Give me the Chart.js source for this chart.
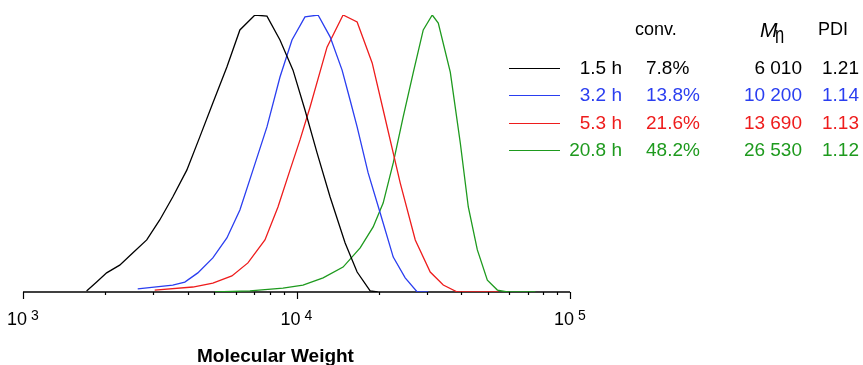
<!DOCTYPE html>
<html>
<head>
<meta charset="utf-8">
<title>GPC traces</title>
<script src="https://cdn.jsdelivr.net/npm/chart.js@4.4.1/dist/chart.umd.min.js"></script>
<style>
    html, body { margin: 0; padding: 0; background: #fff; }
    #wrap { position: relative; width: 863px; height: 365px; overflow: hidden;
            font-family: "Liberation Sans", Arial, Helvetica, sans-serif; }
    #chart { position: absolute; left: 0; top: 0; }
    .txt { position: absolute; font-size: 19px; line-height: 19px; white-space: nowrap; }
    .head { font-size: 18px; line-height: 18px; }
    .swatch { position: absolute; height: 0; border-top: 1.3px solid #000; }
    #xtitle { position: absolute; font-weight: bold; font-size: 19px; line-height: 19px; }
</style>
</head>
<body>
<div id="wrap">
    <canvas id="chart" width="863" height="365"></canvas>
    <div id="legend"></div>
    <div id="xtitle" style="left:197px; top:345.6px;">Molecular Weight</div>
</div>

<script>
// reaction time samples
const times = ["1.5 h", "3.2 h", "5.3 h", "20.8 h"];
const conversions = ["7.8%", "13.8%", "21.6%", "48.2%"];
const mnValues = ["6 010", "10 200", "13 690", "26 530"];
const pdiValues = ["1.21", "1.14", "1.13", "1.12"];
const colors = ["#000000", "#2a3ef0", "#ee1c1c", "#1e9a1e"];

// x axis decades
const decades = [1000, 10000, 100000];
const decadeExp = ["3", "4", "5"];

// GPC traces: molecular weight vs normalized detector signal
const mw1 = [1708, 1859, 2022, 2257, 2518, 2834, 3162, 3528, 3971, 4431, 4945, 5565, 6209, 7047, 7798, 8702, 9710, 10740, 11890, 13270, 15060, 16660, 18590, 19800];
const sig1 = [0.004, 0.036, 0.069, 0.097, 0.141, 0.188, 0.260, 0.343, 0.440, 0.560, 0.682, 0.812, 0.946, 1.0, 0.996, 0.910, 0.801, 0.657, 0.502, 0.343, 0.177, 0.072, 0.004, 0];

const mw2 = [2627, 3528, 3905, 4357, 4945, 5565, 6209, 6929, 7798, 8702, 9627, 10740, 11990, 13270, 14680, 15700, 16660, 18280, 20230, 22580, 24970, 27630, 30310];
const sig2 = [0.011, 0.025, 0.036, 0.069, 0.123, 0.195, 0.296, 0.440, 0.596, 0.776, 0.910, 0.993, 1.0, 0.921, 0.801, 0.693, 0.596, 0.430, 0.285, 0.126, 0.051, 0, 0];

const mw3 = [3031, 4178, 4945, 5804, 6643, 7667, 8556, 9467, 10300, 11210, 12930, 14800, 16660, 18910, 20750, 23940, 27180, 30830, 34410, 38720, 54720];
const sig3 = [0.007, 0.018, 0.032, 0.058, 0.105, 0.188, 0.307, 0.440, 0.549, 0.668, 0.884, 1.0, 0.975, 0.827, 0.657, 0.394, 0.188, 0.072, 0.025, 0, 0];

const mw4 = [5030, 6756, 8923, 10560, 12510, 14800, 17090, 19070, 20740, 22580, 24550, 26710, 29070, 31360, 32990, 36500, 39710, 42480, 45840, 49870, 54260, 59030, 74760];
const sig4 = [0, 0.004, 0.014, 0.025, 0.051, 0.090, 0.159, 0.235, 0.321, 0.466, 0.632, 0.791, 0.946, 1.0, 0.971, 0.794, 0.538, 0.307, 0.152, 0.043, 0.007, 0, 0];

const traces = [[mw1, sig1], [mw2, sig2], [mw3, sig3], [mw4, sig4]];

function toPoints(xs, ys) {
    return xs.map((x, i) => ({ x: x, y: ys[i] }));
}

// bottom axis with log ticks and 10^n labels
const logAxis = {
    id: 'logAxis',
    beforeDatasetsDraw(chart) {
        const ctx = chart.ctx;
        const sx = chart.scales.x;
        const y0 = chart.chartArea.bottom;
        ctx.save();
        ctx.strokeStyle = '#000';
        ctx.lineWidth = 1.5;
        ctx.beginPath();
        ctx.moveTo(sx.getPixelForValue(decades[0]), y0);
        ctx.lineTo(sx.getPixelForValue(decades[decades.length - 1]), y0);
        ctx.stroke();

        ctx.lineWidth = 1.2;
        for (let d = 0; d < decades.length; d++) {
            const base = decades[d];
            const last = d === decades.length - 1 ? 1 : 9;
            for (let k = 1; k <= last; k++) {
                const px = Math.round(sx.getPixelForValue(base * k)) + 0.5;
                const len = k === 1 ? 7 : 3;
                ctx.beginPath();
                ctx.moveTo(px, y0);
                ctx.lineTo(px, y0 + len);
                ctx.stroke();
            }
        }

        ctx.fillStyle = '#000';
        ctx.textBaseline = 'alphabetic';
        ctx.textAlign = 'left';
        decades.forEach((v, i) => {
            const px = sx.getPixelForValue(v);
            ctx.font = '18px "Liberation Sans", Arial, sans-serif';
            const w10 = ctx.measureText('10').width;
            ctx.font = '14px "Liberation Sans", Arial, sans-serif';
            const wExp = ctx.measureText(decadeExp[i]).width;
            const total = w10 + 4 + wExp;
            const left = px - total / 2;
            ctx.font = '18px "Liberation Sans", Arial, sans-serif';
            ctx.fillText('10', left, 325);
            ctx.font = '14px "Liberation Sans", Arial, sans-serif';
            ctx.fillText(decadeExp[i], left + w10 + 4, 320);
        });
        ctx.restore();
    }
};

const datasets = traces.map((t, i) => ({
    label: times[i],
    data: toPoints(t[0], t[1]),
    borderColor: colors[i],
    borderWidth: 1.3,
    pointRadius: 0,
    tension: 0,
    fill: false
}));

new Chart(document.getElementById('chart'), {
    type: 'line',
    data: { datasets },
    options: {
        responsive: false,
        animation: false,
        devicePixelRatio: 1,
        layout: { padding: { left: 23, right: 293, top: 15, bottom: 73 } },
        plugins: { legend: { display: false }, tooltip: { enabled: false } },
        scales: {
            x: { type: 'logarithmic', min: 1000, max: 100000, display: false },
            y: { type: 'linear', min: 0, max: 1, display: false }
        }
    },
    plugins: [logAxis]
});

// legend table: swatch, time, conversion, Mn, PDI
const legend = document.getElementById('legend');
function addText(text, left, top, color, align) {
    const s = document.createElement('div');
    s.className = 'txt';
    s.textContent = text;
    s.style.color = color;
    s.style.top = top + 'px';
    if (align === 'right') {
        s.style.right = (863 - left) + 'px';
    } else {
        s.style.left = left + 'px';
    }
    legend.appendChild(s);
    return s;
}

addText('conv.', 635, 20, '#000').classList.add('head');
addText('PDI', 818, 20, '#000').classList.add('head');
const mHead = addText('', 760, 0, '#000');
mHead.innerHTML = '<span style="font-style:italic;font-size:21px;position:relative;top:20px">M</span>' +
    '<span style="display:inline-block;font-size:23px;position:relative;top:26px;margin-left:-3px;' +
    'transform:scaleX(0.72);transform-origin:left">n</span>';

for (let i = 0; i < times.length; i++) {
    const top = 57.9 + 27.5 * i;
    const sw = document.createElement('div');
    sw.className = 'swatch';
    sw.style.left = '509px';
    sw.style.width = '51px';
    sw.style.top = (top + 9.6) + 'px';
    sw.style.borderTopColor = colors[i];
    legend.appendChild(sw);

    addText(times[i], 622, top, colors[i], 'right');
    addText(conversions[i], 646, top, colors[i]);
    addText(mnValues[i], 802, top, colors[i], 'right');
    addText(pdiValues[i], 822, top, colors[i]);
}
</script>
</body>
</html>
